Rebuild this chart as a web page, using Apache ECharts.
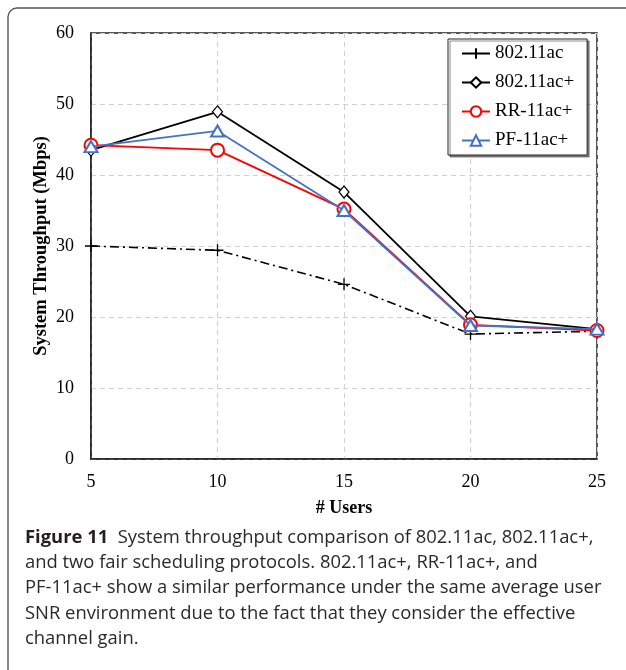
<!DOCTYPE html>
<html>
<head>
<meta charset="utf-8">
<script src="https://cdn.jsdelivr.net/npm/echarts@6/dist/echarts.min.js"></script>
<style>
  html, body { margin: 0; padding: 0; background: #fff; }
  #chart { width: 626px; height: 670px; }
</style>
</head>
<body>
<div id="chart"></div>
<script>
// Number of users on the x axis
const users = [5, 10, 15, 20, 25];
const yTicks = [0, 10, 20, 30, 40, 50, 60];

// System throughput (Mbps) per protocol
const ac11 = [30.0, 29.4, 24.6, 17.6, 18.0];
const ac11Plus = [43.5, 48.9, 37.6, 20.1, 18.3];
const rr11acPlus = [44.2, 43.5, 35.2, 18.9, 18.1];
const pf11acPlus = [44.0, 46.2, 35.0, 18.8, 18.3];

const seriesNames = ['802.11ac', '802.11ac+', 'RR-11ac+', 'PF-11ac+'];

const captionLines = [
  '{b|Figure 11}  System throughput comparison of 802.11ac, 802.11ac+,',
  'and two fair scheduling protocols. 802.11ac+, RR-11ac+, and',
  'PF-11ac+ show a similar performance under the same average user',
  'SNR environment due to the fact that they consider the effective',
  'channel gain.'
];

const serif = '"Liberation Serif", "DejaVu Serif", serif';
const sans = '"Open Sans", "Noto Sans", sans-serif';

function pairs(vals) {
  return users.map((u, i) => [u, vals[i]]);
}

const chart = echarts.init(document.getElementById('chart'), null, { renderer: 'canvas' });

const captionGraphics = captionLines.map((line, i) => ({
  type: 'text',
  left: 25,
  top: 529 + i * 25.1,
  style: {
    text: line,
    font: '18.4px ' + sans,
    fill: '#2b2829',
    rich: {
      b: { font: 'bold 18.4px ' + sans, fill: '#231f20' }
    }
  }
}));

chart.setOption({
  animation: false,
  backgroundColor: '#fff',
  grid: {
    left: 91, right: 29, top: 33, bottom: 211,
    show: true,
    borderColor: '#222',
    borderWidth: 1.5
  },
  xAxis: {
    type: 'value',
    min: 5, max: 25, interval: 5,
    name: '# Users',
    nameLocation: 'middle',
    nameGap: 40,
    nameMoveOverlap: false,
    nameTextStyle: { fontFamily: serif, fontWeight: 'bold', fontSize: 18, color: '#000' },
    axisLine: { show: true, lineStyle: { color: '#222', width: 1.5 } },
    axisTick: { show: false },
    axisLabel: { fontFamily: serif, fontSize: 18, color: '#000', margin: 14 },
    splitLine: { show: true, lineStyle: { color: '#d0d0d0', type: [5, 4], width: 1 } }
  },
  yAxis: {
    type: 'value',
    min: 0, max: 60, interval: 10,
    name: 'System Throughput (Mbps)',
    nameLocation: 'middle',
    nameGap: 40,
    nameMoveOverlap: false,
    nameTextStyle: { fontFamily: serif, fontWeight: 'bold', fontSize: 18.5, color: '#000' },
    axisLine: { show: true, lineStyle: { color: '#222', width: 1.5 } },
    axisTick: { show: false },
    axisLabel: {
      fontFamily: serif, fontSize: 18, color: '#000', margin: 17,
      formatter: v => (yTicks.indexOf(v) >= 0 ? String(v) : '')
    },
    splitLine: { show: true, lineStyle: { color: '#d0d0d0', type: [5, 4], width: 1 } }
  },
  legend: {
    data: seriesNames,
    orient: 'vertical',
    left: 448,
    top: 39,
    itemWidth: 28,
    itemHeight: 13,
    itemGap: 10,
    padding: [5, 13, 5, 13],
    backgroundColor: '#fff',
    borderColor: '#222',
    borderWidth: 1,
    borderRadius: 0,
    shadowColor: 'rgba(0,0,0,0.45)',
    shadowOffsetX: 2,
    shadowOffsetY: 2,
    shadowBlur: 0,
    textStyle: { fontFamily: serif, fontSize: 19, color: '#000' }
  },
  graphic: [
    {
      type: 'rect',
      shape: { x: 8, y: 8, width: 720, height: 720, r: 9 },
      style: { fill: 'none', stroke: '#555', lineWidth: 1.4 },
      silent: true,
      z: -1
    }
  ].concat(captionGraphics),
  series: [
    {
      name: seriesNames[0],
      type: 'line',
      data: pairs(ac11),
      symbol: 'path://M5,0 L5,10 M0,5 L10,5',
      symbolSize: 12,
      showAllSymbol: true,
      itemStyle: { color: '#000', borderColor: '#000', borderWidth: 1.3 },
      lineStyle: { color: '#000', width: 1.6, type: [9, 4, 2, 4] },
      z: 2
    },
    {
      name: seriesNames[1],
      type: 'line',
      data: pairs(ac11Plus),
      symbol: 'diamond',
      symbolSize: [10, 12],
      itemStyle: { color: '#fff', borderColor: '#000', borderWidth: 1.2 },
      lineStyle: { color: '#000', width: 1.8 },
      z: 3
    },
    {
      name: seriesNames[2],
      type: 'line',
      data: pairs(rr11acPlus),
      symbol: 'emptyCircle',
      symbolSize: 13,
      itemStyle: { color: '#ff0000', borderColor: '#ff0000', borderWidth: 1 },
      lineStyle: { color: '#ff0000', width: 1.8 },
      z: 4
    },
    {
      name: seriesNames[3],
      type: 'line',
      data: pairs(pf11acPlus),
      symbol: 'emptyTriangle',
      symbolSize: [13, 11],
      itemStyle: { color: '#4472c4', borderColor: '#4472c4', borderWidth: 1 },
      lineStyle: { color: '#4472c4', width: 1.8 },
      z: 5
    }
  ]
});
</script>
</body>
</html>
